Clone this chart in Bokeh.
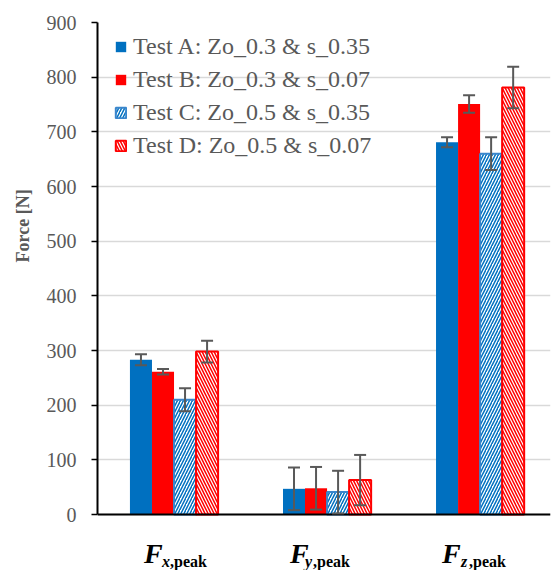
from bokeh.plotting import figure
from bokeh.models import (ColumnDataSource, Whisker, TeeHead, Legend, LegendItem, Label,
                          Range1d, Span, Title)
from bokeh.embed import file_html
from bokeh.resources import INLINE

# ---- data ----
categories = ["x", "y", "z"]
series_names = ["Test A: Zo_0.3 & s_0.35", "Test B: Zo_0.3 & s_0.07",
                "Test C: Zo_0.5 & s_0.35", "Test D: Zo_0.5 & s_0.07"]
test_a = [283, 47, 681]
test_b = [261, 48, 751]
test_c = [210, 41, 660]
test_d = [298, 63, 781]
err_a = [10, 39, 9]
err_b = [5, 39, 16]
err_c = [21, 39, 30]
err_d = [20, 46, 38]
y_ticks = [0, 100, 200, 300, 400, 500, 600, 700, 800, 900]

BLUE = "#0070C0"
RED = "#FF0000"
GREY = "#595959"
FONT = "Liberation Serif"

# frame extended below zero so the category labels can sit inside it
p = figure(width=551, height=570, output_backend="svg", toolbar_location=None,
           x_range=Range1d(-0.5, 2.46), y_range=Range1d(-102.4, 900),
           min_border_left=97, min_border_right=1, min_border_top=22, min_border_bottom=0)
p.outline_line_color = None
p.background_fill_color = "white"

w = 0.144
offsets = [-1.5 * w, -0.5 * w, 0.5 * w, 1.5 * w]
values = [test_a, test_b, test_c, test_d]
errors = [err_a, err_b, err_c, err_d]
styles = [
    dict(fill_color=BLUE, line_color=BLUE, line_width=0),
    dict(fill_color=RED, line_color=RED, line_width=0),
    dict(fill_color="white", line_color="#3A86CC", line_width=2,
         hatch_pattern="/", hatch_color=BLUE, hatch_scale=6, hatch_weight=1.5),
    dict(fill_color="white", line_color=RED, line_width=2,
         hatch_pattern="\\", hatch_color=RED, hatch_scale=6, hatch_weight=1.5),
]

# grid
p.ygrid.ticker = y_ticks
p.ygrid.grid_line_color = "#D9D9D9"
p.ygrid.grid_line_width = 1.5
p.xgrid.visible = False

items = []
wx, wu, wl = [], [], []
for k in range(4):
    xs = [i + offsets[k] for i in range(len(categories))]
    src = ColumnDataSource(dict(x=xs, top=values[k]))
    r = p.vbar(x="x", top="top", width=w, bottom=0, source=src, **styles[k])
    items.append(LegendItem(label=series_names[k], renderers=[r]))
    for i in range(len(categories)):
        wx.append(xs[i])
        wu.append(values[k][i] + errors[k][i])
        wl.append(values[k][i] - errors[k][i])

wsrc = ColumnDataSource(dict(x=wx, upper=wu, lower=wl))
whisk = Whisker(base="x", upper="upper", lower="lower", source=wsrc,
                line_color=GREY, line_width=2, level="overlay",
                upper_head=TeeHead(size=12, line_color=GREY, line_width=2),
                lower_head=TeeHead(size=12, line_color=GREY, line_width=2))
p.add_layout(whisk)

# x axis line at zero
p.xaxis.visible = False
p.add_layout(Span(location=0, dimension="width", line_color="black", line_width=2))

# y axis
ya = p.yaxis[0]
ya.bounds = (0, 900)
ya.ticker = y_ticks
ya.axis_line_color = "black"
ya.axis_line_width = 2
ya.major_tick_line_color = "black"
ya.major_tick_line_width = 1.5
ya.major_tick_in = 0
ya.major_tick_out = 6
ya.minor_tick_line_color = None
ya.major_label_text_font = FONT
ya.major_label_text_font_size = "20px"
ya.major_label_text_color = GREY
ya.major_label_standoff = 15

# "Force [N]" as a left-side title
ytitle = Title(text="Force [N]", align="left", offset=308, standoff=21,
               text_font=FONT, text_font_style="bold", text_font_size="18px",
               text_color=GREY)
p.add_layout(ytitle, "left")

# category labels F_{x,peak}
f_dx = [-30, -37, -38]
s_dx = [-12, -22, -19]
for i, c in enumerate(categories):
    p.add_layout(Label(x=i, y=17, x_units="data", y_units="screen", x_offset=f_dx[i],
                       text="F", text_font=FONT, text_font_style="bold italic",
                       text_font_size="28px", text_baseline="alphabetic", text_color="black"))
    p.add_layout(Label(x=i, y=9, x_units="data", y_units="screen", x_offset=s_dx[i],
                       text=c, text_font=FONT, text_font_style="bold italic",
                       text_font_size="16px", text_baseline="alphabetic", text_color="black"))
    p.add_layout(Label(x=i, y=9, x_units="data", y_units="screen", x_offset=s_dx[i] + 8,
                       text=",peak", text_font=FONT, text_font_style="bold",
                       text_font_size="16px", text_baseline="alphabetic", text_color="black"))

legend = Legend(items=items, location=(17, 411), margin=0, padding=0,
                background_fill_alpha=0, border_line_color=None,
                label_text_font=FONT, label_text_font_size="24px", label_text_color=GREY,
                glyph_width=13, glyph_height=13, label_standoff=6, spacing=6,
                label_height=22)
p.add_layout(legend)

open("out.html", "w").write(file_html(p, INLINE))
